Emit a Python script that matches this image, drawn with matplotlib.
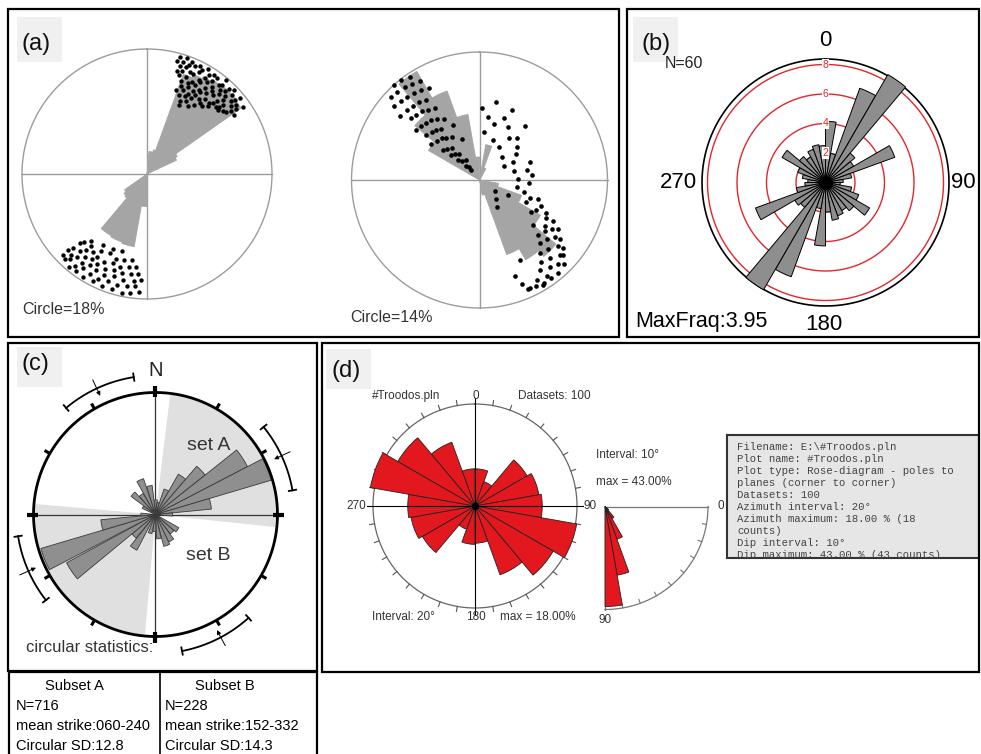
import numpy as np
import matplotlib
matplotlib.use("Agg")
import matplotlib.pyplot as plt
from matplotlib.patches import Rectangle

W, H = 981, 754
fig = plt.figure(figsize=(W / 100, H / 100), dpi=100)
fig.patch.set_facecolor("white")
SANS = ["Liberation Sans", "DejaVu Sans"]

# ---------------- data ----------------
# (a) left rose: 5-degree bins (bin start, petal length as fraction of circle radius)
a1_bins = [5, 10, 15, 20, 25, 30, 35, 40, 45, 50, 55, 60,
           180, 185, 190, 195, 200, 205, 210, 215, 220, 225, 230]
a1_vals = [0.18, 0.18, 0.20, 0.85, 0.88, 0.90, 0.92, 0.93, 0.93, 0.92, 0.28, 0.26,
           0.26, 0.26, 0.59, 0.59, 0.58, 0.58, 0.57, 0.57, 0.25, 0.24, 0.22]
# (a) left poles: azimuth (deg), radius fraction
a1_ne_az = [16, 19, 22, 26, 30, 34, 40, 46, 51, 55,
            15, 18, 21, 24, 28, 32, 36, 40, 44,
            17, 20, 23, 27, 31, 35, 39, 43, 47, 50,
            16, 19, 25, 29, 33, 37, 41, 45, 49, 52,
            18, 22, 26, 30, 34, 38, 42, 46, 51, 54,
            20, 24, 28, 32, 36, 40, 44, 48, 53,
            21, 25, 29, 33, 38, 43, 47, 52, 56,
            19, 23, 27, 31, 35, 41, 46, 50,
            22, 26, 30, 37, 42, 48,
            24, 28, 34, 39,
            25, 31]
a1_ne_r = [0.97, 0.98, 0.97, 0.96, 0.97, 0.96, 0.98, 0.97, 0.96, 0.94,
           0.94, 0.94, 0.93, 0.95, 0.94, 0.93, 0.95, 0.93, 0.95,
           0.90, 0.91, 0.89, 0.92, 0.90, 0.91, 0.92, 0.91, 0.93, 0.92,
           0.86, 0.87, 0.88, 0.86, 0.88, 0.87, 0.89, 0.88, 0.89, 0.90,
           0.83, 0.84, 0.82, 0.85, 0.83, 0.84, 0.86, 0.85, 0.86, 0.88,
           0.79, 0.80, 0.81, 0.79, 0.80, 0.82, 0.81, 0.82, 0.84,
           0.75, 0.77, 0.76, 0.78, 0.76, 0.78, 0.79, 0.80, 0.84,
           0.71, 0.73, 0.72, 0.74, 0.73, 0.75, 0.77, 0.79,
           0.68, 0.69, 0.70, 0.71, 0.73, 0.76,
           0.64, 0.66, 0.67, 0.70,
           0.61, 0.63]
a1_sw_az = [184, 188, 192, 197, 202, 207, 212, 216, 220, 224,
            186, 190, 195, 200, 205, 210, 214, 218, 222, 226,
            183, 187, 193, 198, 203, 208, 212, 216, 220, 223, 226,
            185, 189, 194, 199, 204, 209, 213, 217, 221, 225,
            187, 191, 196, 201, 206, 211, 215, 219, 224,
            190, 195, 200, 205, 211, 218, 223,
            198, 204, 212, 220]
a1_sw_r = [0.95, 0.96, 0.97, 0.96, 0.97, 0.96, 0.97, 0.96, 0.97, 0.95,
           0.90, 0.91, 0.92, 0.91, 0.93, 0.92, 0.91, 0.93, 0.92, 0.93,
           0.85, 0.86, 0.87, 0.86, 0.88, 0.87, 0.86, 0.88, 0.87, 0.89, 0.88,
           0.80, 0.81, 0.82, 0.81, 0.83, 0.82, 0.81, 0.83, 0.82, 0.84,
           0.75, 0.76, 0.77, 0.76, 0.78, 0.77, 0.76, 0.78, 0.77,
           0.70, 0.71, 0.72, 0.70, 0.72, 0.73, 0.74,
           0.65, 0.66, 0.67, 0.70]

# (a) right rose: 10-degree bins
a2_bins = [10, 20, 100, 110, 120, 130, 140, 150, 160, 300, 310, 320, 330, 340, 350]
a2_vals = [0.28, 0.10, 0.15, 0.35, 0.55, 0.78, 0.72, 0.62, 0.12, 0.46, 0.66, 0.98, 0.74, 0.52, 0.18]
a2_az = [318, 322, 326, 313, 317, 321, 325, 329, 311, 315, 319, 323, 327, 331,
         309, 314, 318, 322, 326, 312, 316, 320, 324, 328, 308, 313, 317, 321, 325,
         310, 315, 319, 323, 307, 312, 318, 322, 327, 309, 314, 320, 311, 316, 322,
         313, 318, 325, 316, 321, 319, 330, 334, 337,
         2, 8, 15, 22, 28, 35, 42, 48, 55, 62, 70, 78, 85, 93, 5, 18, 30, 45, 60, 75, 88, 12, 25, 40,
         100, 105, 110, 115, 108, 113, 118, 122, 116, 120, 125, 130, 119, 124, 128, 133,
         122, 127, 131, 136, 126, 130, 135, 140, 129, 133, 138, 143, 132, 137, 141, 146,
         135, 140, 145, 150, 148, 152, 156, 144, 149, 155, 158, 139, 147, 125, 117, 160, 153]
a2_r = [1.0, 0.99, 0.97, 0.95, 0.94, 0.93, 0.92, 0.90, 0.88, 0.87, 0.86, 0.85, 0.84, 0.82,
        0.80, 0.79, 0.78, 0.77, 0.75, 0.72, 0.71, 0.70, 0.68, 0.66, 0.63, 0.62, 0.61, 0.60, 0.58,
        0.55, 0.53, 0.52, 0.50, 0.47, 0.45, 0.44, 0.42, 0.40, 0.37, 0.35, 0.33, 0.30, 0.28, 0.26,
        0.23, 0.20, 0.19, 0.15, 0.13, 0.10, 0.55, 0.48, 0.35,
        0.56, 0.50, 0.45, 0.52, 0.47, 0.40, 0.44, 0.39, 0.35, 0.30, 0.42, 0.38, 0.41, 0.39,
        0.38, 0.33, 0.30, 0.25, 0.22, 0.28, 0.30, 0.62, 0.60, 0.55,
        0.30, 0.36, 0.42, 0.40, 0.48, 0.52, 0.50, 0.47, 0.58, 0.60, 0.62, 0.55, 0.66, 0.68, 0.65, 0.63,
        0.72, 0.74, 0.70, 0.68, 0.78, 0.80, 0.76, 0.74, 0.84, 0.86, 0.82, 0.80, 0.88, 0.90, 0.87, 0.85,
        0.93, 0.95, 0.92, 0.90, 0.95, 0.94, 0.93, 0.95, 0.96, 0.93, 0.88, 0.20, 0.25, 0.15, 0.25, 0.80, 0.70]

# (b) rose: 10-degree bins, frequency
b_bins = list(range(0, 360, 10))
b_vals = [4.15, 2.0, 6.8, 8.45, 2.6, 2.2, 5.0, 1.8, 1.2, 1.0, 1.8, 2.4,
          3.45, 2.5, 2.2, 2.4, 2.6, 2.0, 4.3, 1.8, 6.8, 8.4, 2.2, 2.4,
          5.05, 2.0, 1.4, 1.2, 1.6, 2.0, 3.4, 2.3, 2.0, 2.4, 2.6, 2.5]
b_rings = [2, 4, 6, 8]

# (c) rose: petal centre (deg) and relative length, 11-degree petals
c_dirs = [2, 13, 24, 35, 46, 57, 68, 79, 90, 125, 137, 149, 160, 172, 184, 196,
          213, 225, 236, 248, 259, 270, 300, 312, 324, 336, 348]
c_vals = [0.12, 0.10, 0.22, 0.38, 0.52, 0.85, 0.99, 0.46, 0.14, 0.22, 0.20, 0.25, 0.27, 0.20, 0.14, 0.16,
          0.33, 0.25, 0.83, 0.98, 0.45, 0.12, 0.12, 0.25, 0.20, 0.31, 0.24]
c_sets = [("set A", 7, 96), ("set B", 185, 275)]
c_arc_start = [320, 51, 232, 138]
c_arc_end = [351, 80, 261, 169]
c_arc_mean = [335, 65, 246, 152]

# (d) azimuth rose (20-degree bins, %) and dip rose (10-degree bins, %)
d_bins = list(range(0, 360, 20))
d_vals = [6.3, 4.4, 10.2, 11.0, 11.4, 17.5, 15.3, 12.4, 6.3, 6.5, 4.2, 10.3, 11.0, 11.4, 18.0, 15.1, 11.5, 6.3]
dip_bins = list(range(0, 90, 10))
dip_vals = [0, 0, 0, 0, 2, 6, 15, 30, 43]
box_lines = ["Filename: E:\\#Troodos.pln",
             "Plot name: #Troodos.pln",
             "Plot type: Rose-diagram - poles to",
             "planes (corner to corner)",
             "Datasets: 100",
             "Azimuth interval: 20\u00b0",
             "Azimuth maximum: 18.00 % (18",
             "counts)",
             "Dip interval: 10\u00b0",
             "Dip maximum: 43.00 % (43 counts)"]

table_headers = ["Subset A", "Subset B"]
table_a = ["N=716", "mean strike:060-240", "Circular SD:12.8"]
table_b = ["N=228", "mean strike:152-332", "Circular SD:14.3"]

TH = np.deg2rad(np.linspace(0, 360, 721))


def polar_ax(cx, cy, r_px, rmax, zero="N", direction=-1):
    ax = fig.add_axes([(cx - r_px) / W, 1 - (cy + r_px) / H, 2 * r_px / W, 2 * r_px / H],
                      projection="polar")
    ax.set_theta_zero_location(zero)
    ax.set_theta_direction(direction)
    ax.set_ylim(0, rmax)
    ax.axis("off")
    return ax


def rad(a):
    return np.deg2rad(np.asarray(a, dtype=float))


GREY = "#a5a5a5"

# ---------------- (a) left ----------------
ax = polar_ax(147, 174, 125 * 1.05, 1.05)
ax.bar(rad(np.array(a1_bins) + 2.5), a1_vals, width=rad(5), color=GREY, edgecolor=GREY,
       linewidth=0.6, zorder=1)
for t in (0, 90, 180, 270):
    ax.plot([rad(t)] * 2, [0, 1], color="#9c9c9c", lw=1, zorder=0.5)
ax.plot(TH, np.ones_like(TH), color="#9c9c9c", lw=1)
ax.scatter(rad(a1_ne_az), a1_ne_r, s=10, c="black", zorder=3, linewidths=0)
ax.scatter(rad(a1_sw_az), a1_sw_r, s=10, c="black", zorder=3, linewidths=0)

# ---------------- (a) right ----------------
ax = polar_ax(479.5, 180, 128 * 1.05, 1.05)
ax.bar(rad(np.array(a2_bins) + 5), a2_vals, width=rad(10), color=GREY, edgecolor=GREY,
       linewidth=0.6, zorder=1)
for t in (0, 90, 180, 270):
    ax.plot([rad(t)] * 2, [0, 1], color="#9c9c9c", lw=1, zorder=0.5)
ax.plot(TH, np.ones_like(TH), color="#9c9c9c", lw=1)
ax.scatter(rad(a2_az), a2_r, s=11, c="black", zorder=3, linewidths=0)

# ---------------- (b) ----------------
PXU = 14.75
ax = polar_ax(825.5, 182.5, 8.7 * PXU, 8.7)
for v in b_rings:
    ax.plot(TH, np.full_like(TH, v), color="#e2262c", lw=1, zorder=1)
    ax.text(0, v, str(v), color="#e2262c", fontsize=7.5, ha="center", va="center", family=SANS,
            zorder=2.5, bbox=dict(facecolor="white", edgecolor="none", pad=0.4))
ax.plot(TH, np.full_like(TH, 123.5 / PXU), color="black", lw=1.2, zorder=1)
ax.bar(rad(np.array(b_bins) + 5), b_vals, width=rad(10), color="#8e8e8e", edgecolor="black",
       linewidth=0.7, zorder=2)
ax.scatter([0], [0], s=70, c="black", zorder=4)

# ---------------- (c) ----------------
ax = polar_ax(155.5, 514.5, 122 * 1.3, 1.3)
for name, s, e in c_sets:
    ax.bar(rad((s + e) / 2), 1.0, width=rad(e - s), color="#e0e0e0", edgecolor="none", zorder=0.5)
for t in (0, 90, 180, 270):
    ax.plot([rad(t)] * 2, [0, 1], color="#333333", lw=0.9, zorder=1)
ax.bar(rad(c_dirs), c_vals, width=rad(11), color="#8f8f8f", edgecolor="#3a3a3a", linewidth=0.6, zorder=2)
ax.plot(TH, np.ones_like(TH), color="black", lw=2, zorder=3)
for t in range(0, 360, 30):
    if t % 90 == 0:
        ax.plot([rad(t)] * 2, [0.96, 1.05], color="black", lw=3, zorder=3, solid_capstyle="butt")
    else:
        ax.plot([rad(t)] * 2, [1.0, 1.05], color="black", lw=2.2, zorder=3, solid_capstyle="butt")
for s, e, m in zip(c_arc_start, c_arc_end, c_arc_mean):
    tt = rad(np.linspace(s, e, 60))
    ax.plot(tt, np.full_like(tt, 1.14), color="black", lw=1.3, zorder=3)
    for q in (s, e):
        ax.plot([rad(q)] * 2, [1.11, 1.17], color="black", lw=1.3, zorder=3)
    ax.annotate("", xy=(rad(m), 1.05), xytext=(rad(m), 1.24),
                arrowprops=dict(arrowstyle="-|>", lw=0.7, color="black", mutation_scale=6))

# ---------------- (d) azimuth ----------------
DPX = 5.9
dc = 102 / DPX
ax = polar_ax(475, 506, 19.5 * DPX, 19.5)
ax.bar(rad(np.array(d_bins) + 10), d_vals, width=rad(20), color="#e3171e", edgecolor="#222222",
       linewidth=0.6, zorder=2)
ax.plot(TH, np.full_like(TH, dc), color="#666666", lw=0.9, zorder=1)
for t in (0, 90, 180, 270):
    ax.plot([rad(t)] * 2, [0, dc + 6 / DPX], color="black", lw=0.8, zorder=3)
for t in range(10, 360, 10):
    if t % 90:
        ax.plot([rad(t)] * 2, [dc, dc + 5 / DPX], color="#555555", lw=0.8, zorder=1)
ax.scatter([0], [0], s=18, c="black", zorder=4)

# ---------------- (d) dip ----------------
PPX = 100 / 43
pc = 103 / PPX
ax = polar_ax(605, 506.5, 47 * PPX, 47, zero="E", direction=-1)
ax.bar(rad(np.array(dip_bins) + 5), dip_vals, width=rad(10), color="#e3171e", edgecolor="#222222",
       linewidth=0.6, zorder=2)
tq = rad(np.linspace(0, 90, 200))
ax.plot(tq, np.full_like(tq, pc), color="#777777", lw=0.9, zorder=1)
ax.plot([0, 0], [0, pc], color="#777777", lw=0.9, zorder=1)
ax.plot([rad(90)] * 2, [0, pc], color="#777777", lw=0.9, zorder=1)
for t in range(10, 90, 10):
    ax.plot([rad(t)] * 2, [pc - 4 / PPX, pc], color="#777777", lw=0.8, zorder=1)

# ---------------- (d) text box ----------------
tb = fig.add_axes([727 / W, 1 - 558 / H, (979 - 727) / W, (558 - 435) / H])
tb.set_xlim(727, 979)
tb.set_ylim(558, 435)
tb.set_facecolor("#e6e6e6")
tb.set_xticks([])
tb.set_yticks([])
for sp in tb.spines.values():
    sp.set_linewidth(1.5)
    sp.set_color("#333333")
for i, line in enumerate(box_lines):
    tb.text(737, 447 + 12 * i, line, family=["Liberation Mono", "DejaVu Sans Mono"], fontsize=7.7,
            va="center", ha="left", color="#444444", clip_on=True)

# ---------------- overlay: frames and text ----------------
ov = fig.add_axes([0, 0, 1, 1])
ov.set_xlim(0, W)
ov.set_ylim(H, 0)
ov.axis("off")

for (x, y, w, h) in [(8, 9, 611, 328), (627, 9, 352, 328), (8, 343, 309, 328), (322, 343, 657, 329),
                     (9, 672, 308, 90)]:
    ov.add_patch(Rectangle((x, y), w, h, fill=False, edgecolor="black", lw=1.6, zorder=5))
ov.plot([160, 160], [672, 754], color="black", lw=1.2)

for (bx, by, lab, tx, ty) in [(17, 17, "(a)", 36, 44), (633, 17, "(b)", 656, 44),
                              (17, 347, "(c)", 35, 364), (326, 349, "(d)", 346, 371)]:
    ov.add_patch(Rectangle((bx, by), 45, 45 if lab in ("(a)", "(b)") else 40, facecolor="#f0f0f0",
                           edgecolor="none", zorder=1))
    ov.text(tx, ty, lab, fontsize=17, ha="center", va="center", family=SANS, color="#111111", zorder=2)

ov.text(22, 309, "Circle=18%", fontsize=11.5, ha="left", va="center", family=SANS, color="#333333")
ov.text(350, 317, "Circle=14%", fontsize=11.5, ha="left", va="center", family=SANS, color="#333333")

# (b) text
ov.text(665, 63, "N=60", fontsize=11.5, ha="left", va="center", family=SANS, color="#222222")
ov.text(825, 40, "0", fontsize=16, ha="center", va="center", family=SANS)
ov.text(678, 183, "270", fontsize=16, ha="center", va="center", family=SANS)
ov.text(951, 183, "90", fontsize=16, ha="left", va="center", family=SANS)
ov.text(824, 325, "180", fontsize=16, ha="center", va="center", family=SANS)
ov.text(635, 321, "MaxFraq:3.95", fontsize=15.5, ha="left", va="center", family=SANS)

# (c) text
ov.text(156, 370, "N", fontsize=14.5, ha="center", va="center", family=SANS, color="#222222")
ov.text(209, 446, "set A", fontsize=14, ha="center", va="center", family=SANS, color="#333333")
ov.text(208, 555, "set B", fontsize=14, ha="center", va="center", family=SANS, color="#333333")
ov.text(26, 647, "circular statistics:", fontsize=12, ha="left", va="center", family=SANS, color="#333333")

# table
ov.text(74, 686, table_headers[0], fontsize=10.5, ha="center", va="center", family=SANS)
ov.text(225, 686, table_headers[1], fontsize=10.5, ha="center", va="center", family=SANS)
for i, (ta, tbx) in enumerate(zip(table_a, table_b)):
    yy = 706 + 20 * i
    ov.text(16, yy, ta, fontsize=10.5, ha="left", va="center", family=SANS)
    ov.text(165, yy, tbx, fontsize=10.5, ha="left", va="center", family=SANS)

# (d) text
dk = dict(fontsize=8.5, va="center", family=SANS, color="#333333")
ov.text(372, 396, "#Troodos.pln", ha="left", **dk)
ov.text(476, 396, "0", ha="center", **dk)
ov.text(518, 396, "Datasets: 100", ha="left", **dk)
ov.text(366, 506, "270", ha="right", **dk)
ov.text(584, 506, "90", ha="left", **dk)
ov.text(372, 617, "Interval: 20\u00b0", ha="left", **dk)
ov.text(476, 617, "180", ha="center", **dk)
ov.text(500, 617, "max = 18.00%", ha="left", **dk)
ov.text(596, 455, "Interval: 10\u00b0", ha="left", **dk)
ov.text(596, 482, "max = 43.00%", ha="left", **dk)
ov.text(718, 506, "0", ha="left", **dk)
ov.text(605, 620, "90", ha="center", **dk)

fig.savefig("out.png", dpi=100)
